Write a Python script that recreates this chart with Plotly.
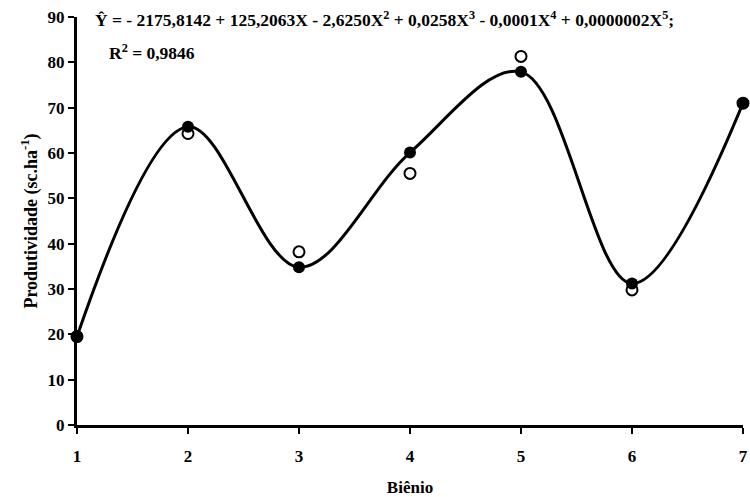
import plotly.graph_objects as go

bienio = [1, 2, 3, 4, 5, 6, 7]
estimado = [19.5, 65.8, 34.8, 60.1, 77.9, 31.2, 71.0]
observado = [19.5, 64.3, 38.2, 55.5, 81.3, 29.8, 71.0]
y_ticks = [0, 10, 20, 30, 40, 50, 60, 70, 80, 90]

FONT = "Liberation Serif"

fig = go.Figure()
fig.add_trace(go.Scatter(
    x=bienio, y=estimado, mode="lines",
    line=dict(color="black", width=3, shape="spline", smoothing=1.0),
    showlegend=False, hoverinfo="skip", cliponaxis=False))
fig.add_trace(go.Scatter(
    x=bienio, y=observado, mode="markers",
    marker=dict(symbol="circle", size=11, color="white",
                line=dict(color="black", width=2)),
    showlegend=False, cliponaxis=False))
fig.add_trace(go.Scatter(
    x=bienio, y=estimado, mode="markers",
    marker=dict(symbol="circle", size=12, color="black"),
    showlegend=False, cliponaxis=False))

fig.add_annotation(
    xref="paper", yref="paper", x=0.024, y=0.995, xanchor="left", yanchor="middle",
    text="Ŷ = - 2175,8142 + 125,2063X - 2,6250X<sup>2</sup> + 0,0258X<sup>3</sup> - 0,0001X<sup>4</sup> + 0,0000002X<sup>5</sup>;",
    showarrow=False, font=dict(family=FONT, size=17.5, color="black", weight="bold"))
fig.add_annotation(
    xref="paper", yref="paper", x=0.045, y=0.915, xanchor="left", yanchor="middle",
    text="R<sup>2</sup> = 0,9846",
    showarrow=False, font=dict(family=FONT, size=17.5, color="black", weight="bold"))

fig.update_layout(
    width=750, height=497,
    margin=dict(l=77, r=7, t=17, b=72),
    plot_bgcolor="white", paper_bgcolor="white",
    font=dict(family=FONT, size=16, color="black", weight="bold"),
    xaxis=dict(
        range=[1, 7], tickvals=bienio, ticktext=[str(v) for v in bienio],
        automargin=False, ticklabeloverflow="allow", ticklabelstandoff=8,
        showgrid=False, zeroline=False, showline=True, linecolor="black", linewidth=3,
        ticks="outside", ticklen=6, tickwidth=2, tickcolor="black",
        title=dict(text="Biênio", font=dict(family=FONT, size=17, weight="bold"), standoff=16),
        tickfont=dict(family=FONT, size=17, weight="bold")),
    yaxis=dict(
        range=[0, 90], tickvals=y_ticks,
        automargin=False, ticklabeloverflow="allow",
        showgrid=False, zeroline=False, showline=True, linecolor="black", linewidth=3,
        ticks="outside", ticklen=6, tickwidth=2, tickcolor="black",
        title=dict(text="Produtividade (sc.ha<sup>-1</sup>)", font=dict(family=FONT, size=18, weight="bold"), standoff=6),
        tickfont=dict(family=FONT, size=17, weight="bold")),
)

fig.write_html("out.html", config={"displayModeBar": False},
               post_script="document.body.style.margin='0';document.body.style.overflow='hidden';")
